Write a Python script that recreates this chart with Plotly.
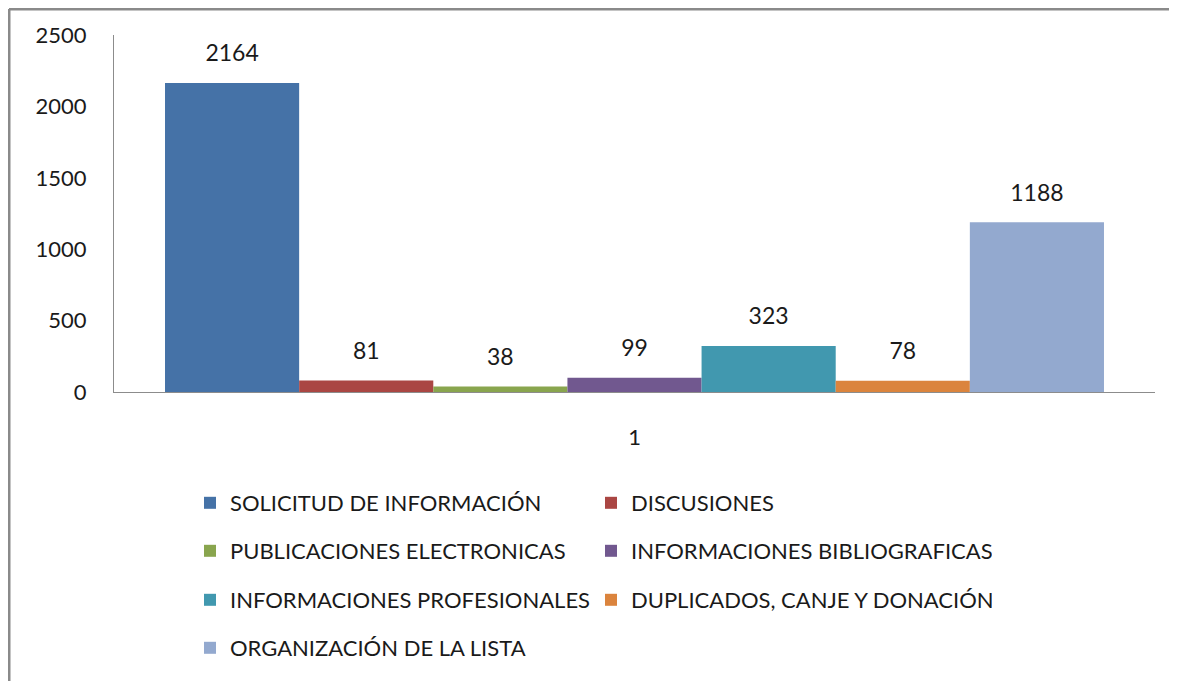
import plotly.graph_objects as go

categories = ["1"]
series_names = [
    "SOLICITUD DE INFORMACIÓN",
    "DISCUSIONES",
    "PUBLICACIONES ELECTRONICAS",
    "INFORMACIONES BIBLIOGRAFICAS",
    "INFORMACIONES PROFESIONALES",
    "DUPLICADOS, CANJE Y DONACIÓN",
    "ORGANIZACIÓN DE LA LISTA",
]
series_values = [2164, 81, 38, 99, 323, 78, 1188]
colors = ["#4572A7", "#AA4643", "#89A54E", "#71588F", "#4198AF", "#DB843D", "#93A9CF"]
y_ticks = [0, 500, 1000, 1500, 2000, 2500]

FONT = "Lato"
OFF = 8  # page body margin
W, H = 1177 - OFF, 681 - OFF
ML, MR, MT, MB = 114 - OFF, 22, 35 - OFF, 289
PW, PH = W - ML - MR, H - MT - MB

legend_names = ["legend", "legend", "legend2", "legend2", "legend3", "legend3", "legend4"]

fig = go.Figure()
for name, val, col, lg in zip(series_names, series_values, colors, legend_names):
    fig.add_trace(go.Bar(
        x=categories, y=[val], name=name, marker=dict(color=col, line=dict(width=0)),
        legend=lg, hoverinfo="skip",
    ))
for name, val in zip(series_names, series_values):
    fig.add_trace(go.Scatter(
        x=categories, y=[val], mode="markers+text", text=[str(val)],
        textposition="top center", marker=dict(size=24, opacity=0),
        textfont=dict(family=FONT, size=23, color="#1a1a1a"),
        showlegend=False, hoverinfo="skip", cliponaxis=False,
    ))

# helpers: screen pixel -> paper coordinates
def px_x(sx):
    return (sx - OFF - ML) / PW

def px_y(sy):
    return (MT + PH - (sy - OFF)) / PH

leg_common = dict(orientation="h", xanchor="left", yanchor="middle",
                  font=dict(family=FONT, size=22, color="#1a1a1a"),
                  entrywidth=356, entrywidthmode="pixels", bgcolor="rgba(0,0,0,0)",
                  x=px_x(190))

border = dict(color="#8a8a8a", width=3)
fig.update_layout(
    width=W, height=H,
    margin=dict(l=ML, r=MR, t=MT, b=MB),
    paper_bgcolor="white", plot_bgcolor="white",
    barmode="group", bargap=0.098, scattermode="group",
    font=dict(family=FONT, size=22, color="#1a1a1a"),
    legend=dict(**leg_common, y=px_y(503)),
    legend2=dict(**leg_common, y=px_y(551)),
    legend3=dict(**leg_common, y=px_y(600)),
    legend4=dict(**leg_common, y=px_y(648)),
    xaxis=dict(showline=True, linecolor="#8c8c8c", linewidth=1, showgrid=False,
               ticks="", ticklabelstandoff=26, tickfont=dict(family=FONT, size=22, color="#1a1a1a")),
    yaxis=dict(range=[0, 2500], tickvals=y_ticks, showline=True, linecolor="#8c8c8c",
               linewidth=1, showgrid=False, zeroline=False, ticks="", ticklabelstandoff=22,
               tickfont=dict(family=FONT, size=22, color="#1a1a1a")),
    shapes=[
        dict(type="line", xref="paper", yref="paper",
             x0=px_x(OFF + 1), x1=px_x(1177 + 30), y0=px_y(OFF + 1), y1=px_y(OFF + 1),
             line=border, layer="below"),
        dict(type="line", xref="paper", yref="paper",
             x0=px_x(OFF + 1), x1=px_x(OFF + 1), y0=px_y(OFF + 1), y1=px_y(681 + 30),
             line=border, layer="below"),
    ],
)

fig.write_html("out.html")
